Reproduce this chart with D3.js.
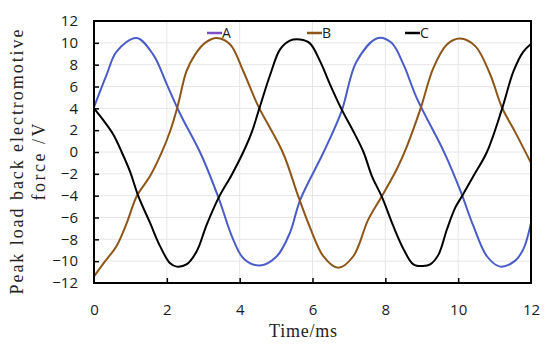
<!DOCTYPE html>
<html lang="en">
<head>
    <meta charset="UTF-8">
    <title>Peak load back electromotive force</title>
    <script src="https://cdnjs.cloudflare.com/ajax/libs/d3/7.8.2/d3.min.js"></script>
    <style>
        body {
            margin: 0;
            background: #fff;
        }
        .tick-label {
            font-family: "Open Sans", sans-serif;
            font-size: 15px;
            fill: #1a1a1a;
        }
        .title {
            font-family: "Liberation Serif", serif;
            font-size: 18px;
            fill: #222;
        }
    </style>
</head>
<body>
    <div id="chart"></div>

    <script>
        // Data (time in ms, value in V)
        const tA = [0, 0.35, 0.62, 1.17, 1.63, 2.0, 2.35, 2.95, 3.42, 3.82, 4.12, 4.56, 5.02, 5.38, 5.66, 6.3, 6.8, 7.21, 7.8, 8.17, 8.5, 8.86, 9.62, 10.05, 10.42, 10.79, 11.15, 11.55, 11.79, 12];
        const vA = [4.1, 7.1, 9.2, 10.45, 8.9, 6.2, 3.6, -0.3, -4.2, -8.0, -9.8, -10.4, -9.55, -7.4, -4.4, -0.05, 3.75, 8.3, 10.45, 10.0, 8.0, 4.96, -0.05, -3.45, -6.8, -9.55, -10.5, -10.0, -8.9, -6.5];

        const tB = [0, 0.26, 0.62, 0.9, 1.17, 1.54, 1.85, 2.09, 2.29, 2.54, 2.77, 3.05, 3.37, 3.74, 4.1, 4.51, 5.18, 5.61, 5.93, 6.3, 6.71, 7.12, 7.53, 7.9, 8.31, 8.59, 8.96, 9.32, 9.69, 10.05, 10.47, 10.88, 11.2, 11.57, 12];
        const vB = [-11.4, -10.2, -8.6, -6.5, -4.07, -2.2, -0.1, 1.9, 4.1, 7.4, 8.9, 10.0, 10.45, 9.85, 7.4, 4.2, 0, -4.07, -6.9, -9.55, -10.6, -9.55, -6.2, -4.07, -1.6, 0.5, 3.9, 7.7, 9.85, 10.4, 9.7, 7.1, 4.1, 1.8, -1.0];

        const tC = [0, 0.26, 0.53, 0.76, 0.99, 1.22, 1.54, 1.81, 2.09, 2.27, 2.54, 2.82, 3.09, 3.42, 3.78, 4.1, 4.33, 4.56, 4.84, 5.11, 5.38, 5.66, 5.93, 6.21, 6.48, 6.8, 7.12, 7.4, 7.63, 7.9, 8.22, 8.5, 8.77, 9.04, 9.23, 9.46, 9.69, 9.92, 10.1, 10.42, 10.79, 11.2, 11.52, 11.79, 12];
        const vC = [4.0, 2.9, 1.6, 0, -1.8, -4.07, -6.5, -8.6, -10.2, -10.5, -10.3, -9.1, -6.7, -4.2, -2.1, 0, 1.8, 4.2, 7.1, 9.4, 10.2, 10.3, 9.95, 8.3, 6.2, 3.9, 1.9, 0, -2.2, -4.07, -6.8, -8.9, -10.3, -10.45, -10.3, -9.4, -7.1, -5.1, -4.07, -2.2, 0, 3.9, 7.4, 9.2, 9.9];

        const seriesNames = ["A", "B", "C"];
        const seriesColors = ["#4a5cc8", "#8e5519", "#000000"];
        const legendColors = ["#7a50c8", "#8e5519", "#000000"];

        const xTicks = [0, 2, 4, 6, 8, 10, 12];
        const yTicks = [-12, -10, -8, -6, -4, -2, 0, 2, 4, 6, 8, 10, 12];

        const width = 550, height = 347;
        const plotLeft = 94, plotRight = 531, plotTop = 21, plotBottom = 283;

        const svg = d3.select("#chart")
            .append("svg")
            .attr("width", width)
            .attr("height", height);

        const x = d3.scaleLinear().domain([0, 12]).range([plotLeft, plotRight]);
        const y = d3.scaleLinear().domain([-12, 12]).range([plotBottom, plotTop]);

        // grid
        svg.append("g")
            .selectAll("line")
            .data(xTicks.slice(1, -1))
            .enter()
            .append("line")
            .attr("x1", d => x(d)).attr("x2", d => x(d))
            .attr("y1", plotTop).attr("y2", plotBottom)
            .attr("stroke", "#e6e6e6");
        svg.append("g")
            .selectAll("line")
            .data(yTicks.slice(1, -1))
            .enter()
            .append("line")
            .attr("x1", plotLeft).attr("x2", plotRight)
            .attr("y1", d => y(d)).attr("y2", d => y(d))
            .attr("stroke", "#e6e6e6");

        // curves
        const series = [
            tA.map((t, i) => [t, vA[i]]),
            tB.map((t, i) => [t, vB[i]]),
            tC.map((t, i) => [t, vC[i]])
        ];
        const line = d3.line()
            .x(d => x(d[0]))
            .y(d => y(d[1]))
            .curve(d3.curveCatmullRom.alpha(0.5));

        svg.append("g")
            .selectAll("path")
            .data(series)
            .enter()
            .append("path")
            .attr("d", line)
            .attr("fill", "none")
            .attr("stroke", (d, i) => seriesColors[i])
            .attr("stroke-width", 2);

        // axes (ticks pointing inward)
        const xAxis = svg.append("g")
            .attr("transform", `translate(0,${plotBottom})`)
            .call(d3.axisBottom(x).tickValues(xTicks).tickSize(-5).tickPadding(21));
        const yAxis = svg.append("g")
            .attr("transform", `translate(${plotLeft},0)`)
            .call(d3.axisLeft(y).tickValues(yTicks).tickSize(-5).tickPadding(16)
                .tickFormat(d => d < 0 ? "\u2212" + Math.abs(d) : d));

        [xAxis, yAxis].forEach(g => {
            g.select(".domain").remove();
            g.selectAll(".tick line").attr("stroke", "#000").attr("stroke-width", 1.5);
            g.selectAll(".tick text").attr("class", "tick-label");
        });
        xAxis.selectAll(".tick").filter(d => d === 0 || d === 12).select("line").remove();
        yAxis.selectAll(".tick").filter(d => d === -12 || d === 12).select("line").remove();

        // frame
        svg.append("rect")
            .attr("x", plotLeft).attr("y", plotTop)
            .attr("width", plotRight - plotLeft).attr("height", plotBottom - plotTop)
            .attr("fill", "none")
            .attr("stroke", "#000")
            .attr("stroke-width", 2);

        // legend
        const legendX = [207, 307, 405];
        const legend = svg.append("g")
            .selectAll("g")
            .data(seriesNames)
            .enter()
            .append("g")
            .attr("transform", (d, i) => `translate(${legendX[i]},33)`);
        legend.append("line")
            .attr("x1", 0).attr("x2", 15)
            .attr("stroke", (d, i) => legendColors[i])
            .attr("stroke-width", 2.5);
        legend.append("text")
            .attr("x", 15)
            .attr("y", 5)
            .attr("class", "tick-label")
            .style("font-size", "14px")
            .text(d => d);

        // titles
        svg.append("text")
            .attr("class", "title")
            .attr("x", 303)
            .attr("y", 337)
            .attr("text-anchor", "middle")
            .attr("textLength", 68)
            .attr("lengthAdjust", "spacing")
            .text("Time/ms");

        svg.append("text")
            .attr("class", "title")
            .attr("transform", "translate(23,162) rotate(-90)")
            .attr("text-anchor", "middle")
            .attr("textLength", 265)
            .attr("lengthAdjust", "spacing")
            .text("Peak load back electromotive");
        svg.append("text")
            .attr("class", "title")
            .attr("transform", "translate(45,162) rotate(-90)")
            .attr("text-anchor", "middle")
            .attr("textLength", 77)
            .attr("lengthAdjust", "spacing")
            .text("force /V");
    </script>
</body>
</html>
